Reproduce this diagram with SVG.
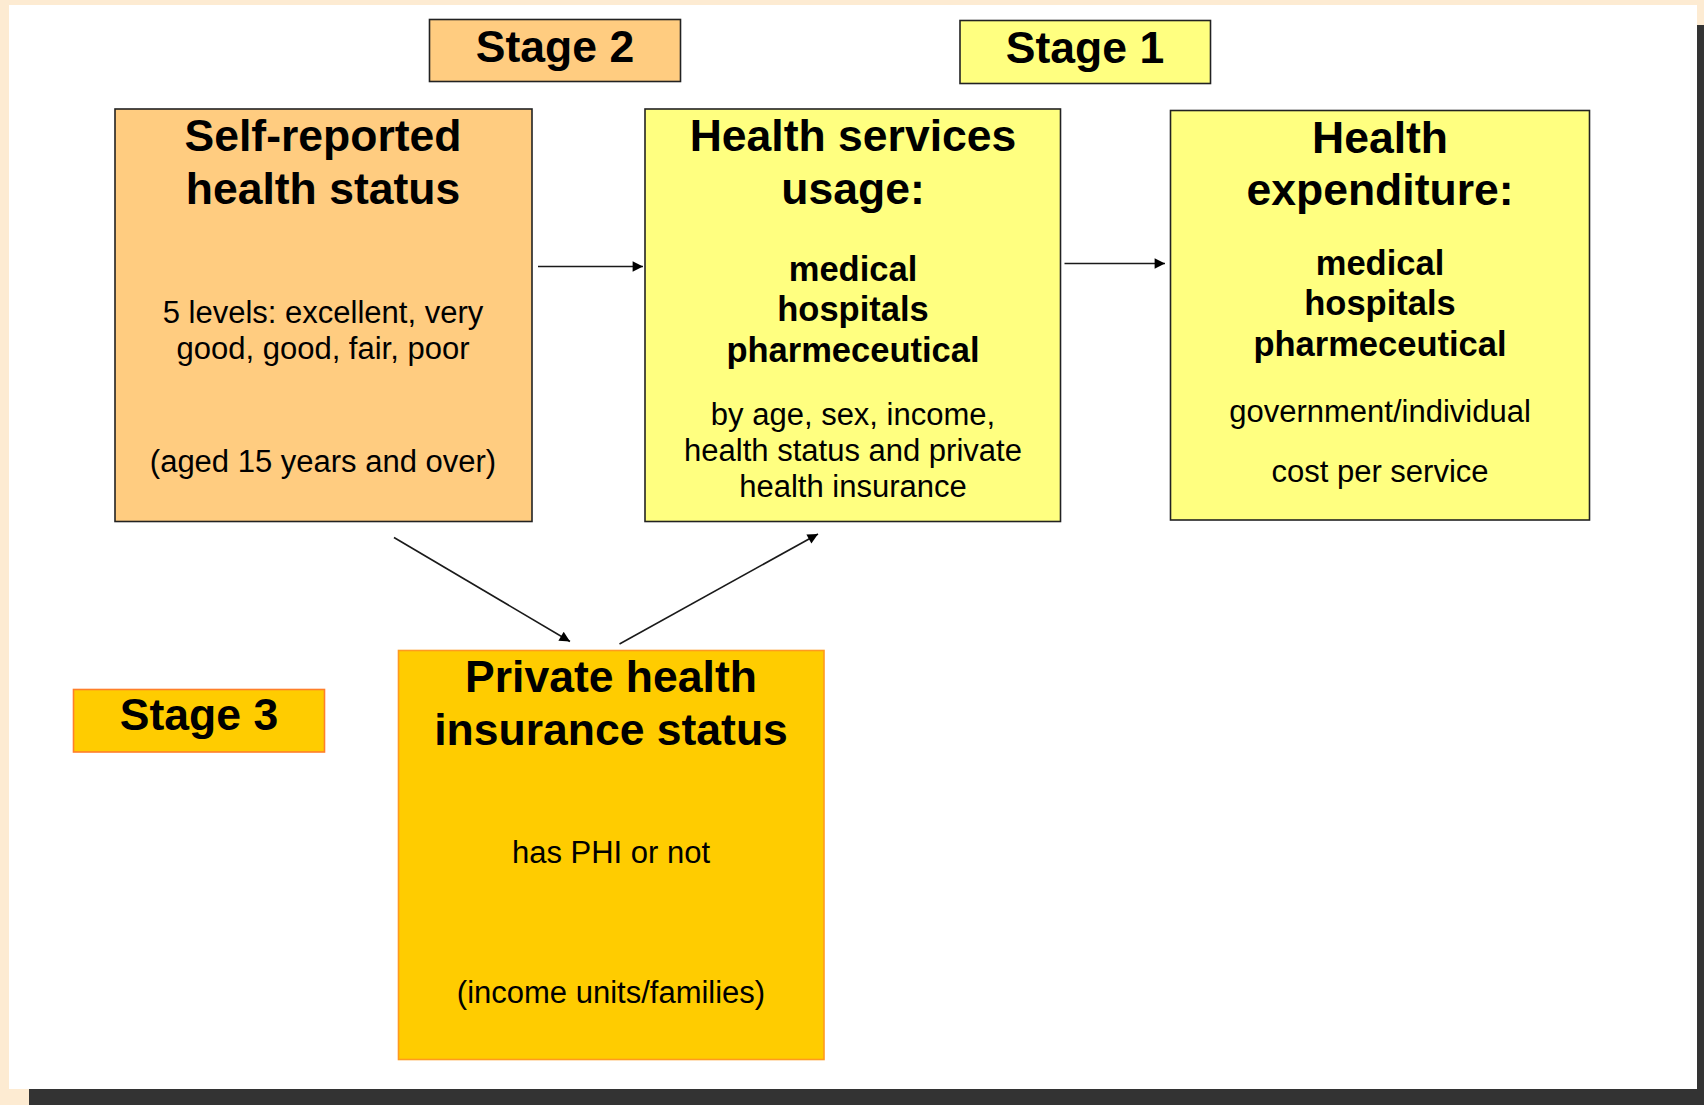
<svg xmlns="http://www.w3.org/2000/svg" width="1704" height="1105" viewBox="0 0 1704 1105">
<defs>
<style>
text{font-family:"Liberation Sans",Arial,sans-serif;fill:#000;text-anchor:middle}
.t{font-size:44.5px;font-weight:bold}
.b{font-size:34.5px;font-weight:bold}
.r{font-size:31px}
.peach{fill:#FFCC80;stroke:#222;stroke-width:1.6}
.yel{fill:#FFFF80;stroke:#222;stroke-width:1.6}
.gold{fill:#FFCC00;stroke:#FF9A1F;stroke-width:1.6}
.conn{stroke:#1a1a1a;stroke-width:1.6;fill:none;marker-end:url(#ah)}
</style>
<marker id="ah" viewBox="0 0 10 10" refX="10" refY="5" markerWidth="8" markerHeight="6.5" markerUnits="strokeWidth" orient="auto">
<path d="M0,0 L10,5 L0,10 z" fill="#000"/>
</marker>
</defs>
<rect x="0" y="0" width="1704" height="1105" fill="#FDEBD2"/>
<rect x="29" y="25" width="1675" height="1080" fill="#333333"/>
<rect x="9" y="5" width="1688" height="1084" fill="#FFFFFF"/>

<g id="stage2">
<rect class="peach" x="429.5" y="19.5" width="251" height="62"/>
<text class="t" x="555" y="62">Stage 2</text>
</g>
<g id="stage1">
<rect class="yel" x="960" y="20.5" width="250.5" height="63"/>
<text class="t" x="1085" y="63">Stage 1</text>
</g>
<g id="stage3">
<rect class="gold" x="73.5" y="689.5" width="251" height="62.5" style="stroke:#FF7F2A"/>
<text class="t" x="199" y="730">Stage 3</text>
</g>

<g id="self-reported">
<rect class="peach" x="115" y="109" width="417" height="412.5"/>
<text class="t" x="323" y="151">Self-reported</text>
<text class="t" x="323" y="203.5">health status</text>
<text class="r" x="323" y="322.5">5 levels: excellent, very</text>
<text class="r" x="323" y="359">good, good, fair, poor</text>
<text class="r" x="323" y="472">(aged 15 years and over)</text>
</g>

<g id="usage">
<rect class="yel" x="645" y="109" width="415.5" height="412.5"/>
<text class="t" x="853" y="151">Health services</text>
<text class="t" x="853" y="203.5">usage:</text>
<text class="b" x="853" y="280.5">medical</text>
<text class="b" x="853" y="321">hospitals</text>
<text class="b" x="853" y="361.5">pharmeceutical</text>
<text class="r" x="853" y="425">by age, sex, income,</text>
<text class="r" x="853" y="461">health status and private</text>
<text class="r" x="853" y="497">health insurance</text>
</g>

<g id="expenditure">
<rect class="yel" x="1170.5" y="110.5" width="419" height="409.5"/>
<text class="t" x="1380" y="152.5">Health</text>
<text class="t" x="1380" y="204.5">expenditure:</text>
<text class="b" x="1380" y="274.5">medical</text>
<text class="b" x="1380" y="315">hospitals</text>
<text class="b" x="1380" y="356">pharmeceutical</text>
<text class="r" x="1380" y="421.5">government/individual</text>
<text class="r" x="1380" y="482">cost per service</text>
</g>

<g id="phi">
<rect class="gold" x="398.5" y="650.5" width="425.5" height="409"/>
<text class="t" x="611" y="691.5">Private health</text>
<text class="t" x="611" y="744.5">insurance status</text>
<text class="r" x="611" y="863">has PHI or not</text>
<text class="r" x="611" y="1002.5">(income units/families)</text>
</g>

<g id="connectors">
<line class="conn" x1="538" y1="266.5" x2="643" y2="266.5"/>
<line class="conn" x1="1064.5" y1="263.5" x2="1165" y2="263.5"/>
<line class="conn" x1="394" y1="537.5" x2="570" y2="641.5"/>
<line class="conn" x1="619.5" y1="644" x2="818" y2="534"/>
</g>
</svg>
